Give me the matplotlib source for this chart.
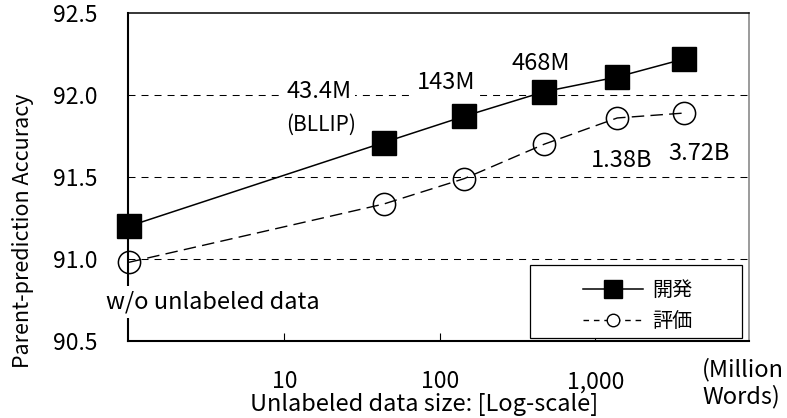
import matplotlib
matplotlib.use("Agg")
import matplotlib.pyplot as plt
from matplotlib.lines import Line2D
from matplotlib.patches import Rectangle

plt.rcParams['font.family'] = ['Noto Sans CJK JP', 'DejaVu Sans']

# ---- data ----
sizes = [1, 43.4, 143, 468, 1380, 3720]          # million words (1 = w/o unlabeled data)
dev_acc = [91.20, 91.71, 91.87, 92.02, 92.11, 92.22]   # 開発
test_acc = [90.98, 91.335, 91.49, 91.70, 91.86, 91.89]  # 評価
series_names = ['開発', '評価']
xtick_vals = [10, 100, 1000]
xtick_labels = ['10', '100', '1,000']
ytick_vals = [90.5, 91.0, 91.5, 92.0, 92.5]
ytick_labels = ['90.5', '91.0', '91.5', '92.0', '92.5']
grid_vals = [91.0, 91.5, 92.0]

W, H = 787, 418
fig = plt.figure(figsize=(W / 100, H / 100), dpi=100)
L, R, T, B = 128, 749, 13, 341
ax = fig.add_axes([L / W, (H - B) / H, (R - L) / W, (B - T) / H])

ax.set_xscale('log')
ax.set_xlim(10 ** (-0.006), 10 ** 3.987)
ax.set_ylim(90.5, 92.5)

# grid
for g in grid_vals:
    ax.axhline(g, color='black', lw=0.75, linestyle=(0, (6.7, 5.8)), zorder=1)

# series
ax.plot(sizes, dev_acc, color='black', lw=1.1, marker='s', markersize=17.5,
        markerfacecolor='black', markeredgecolor='black', clip_on=False, zorder=4)
ax.plot(sizes, test_acc, color='black', lw=1.0, linestyle=(0, (9, 4.5)),
        marker='o', markersize=16, markerfacecolor='none', markeredgecolor='black',
        markeredgewidth=1.1, clip_on=False, zorder=4)

# spines
for s in ['left', 'bottom']:
    ax.spines[s].set_linewidth(1.5)
ax.spines['top'].set_linewidth(1.1)
ax.spines['right'].set_linewidth(1.1)
ax.spines['right'].set_color('#808080')

# ticks
ax.set_xticks(xtick_vals)
ax.set_xticklabels(xtick_labels)
ax.xaxis.set_minor_locator(matplotlib.ticker.NullLocator())
ax.set_yticks(ytick_vals)
ax.set_yticklabels(ytick_labels)
ax.tick_params(axis='x', direction='in', length=6, width=0.8, pad=21, labelsize=16.5)
ax.tick_params(axis='y', length=0, pad=22, labelsize=16.5)

# axis labels
ylab = fig.text(23 / W, (H - 368) / H, 'Parent-prediction Accuracy', rotation=90,
                ha='center', va='bottom', fontsize=15.5)
xlab = fig.text(424 / W, (H - 405) / H, 'Unlabeled data size: [Log-scale]',
                ha='center', va='center', fontsize=17)

fig.text(702 / W, (H - 383) / H, '(Million\nWords)', ha='left', va='center',
         fontsize=17, linespacing=1.2)

# point annotations
def note(x, y, txt, dx, dy, fs=17, bg=False):
    kw = {}
    if bg:
        kw['bbox'] = dict(facecolor='white', edgecolor='none', pad=3)
    ax.annotate(txt, xy=(x, y), xytext=(dx, dy), textcoords='offset pixels',
                ha='center', va='baseline', fontsize=fs, zorder=6,
                annotation_clip=False, **kw)

note(sizes[1], dev_acc[1], '43.4M', -65, 45, bg=True)
note(sizes[1], dev_acc[1], '(BLLIP)', -63, 12, fs=15)
note(sizes[2], dev_acc[2], '143M', -18, 27, bg=True)
note(sizes[3], dev_acc[3], '468M', -3, 22)
note(sizes[4], test_acc[4], '1.38B', 4, -49)
note(sizes[5], test_acc[5], '3.72B', 15, -47)
note(sizes[0], test_acc[0], 'w/o unlabeled data', 84, -46, bg=True)

# legend
fig.patches.append(Rectangle((530 / W, (H - 338) / H), 212 / W, 73 / H,
                             transform=fig.transFigure, facecolor='white',
                             edgecolor='black', lw=0.9, zorder=5))
h1 = Line2D([], [], color='black', lw=1.1, marker='s', markersize=13.5,
            markerfacecolor='black')
h2 = Line2D([], [], color='black', lw=1.0, linestyle=(0, (4, 3.5)), marker='o',
            markersize=9, markerfacecolor='white', markeredgewidth=1.0)
leg = fig.legend([h1, h2], series_names, loc='center',
                 bbox_to_anchor=(637.5 / W, (H - 306) / H), frameon=False,
                 fontsize=14.5, handlelength=3.0, handletextpad=0.45,
                 labelspacing=0.5, borderpad=0, borderaxespad=0)
leg.set_zorder(6)

fig.savefig('out.png', dpi=100)
